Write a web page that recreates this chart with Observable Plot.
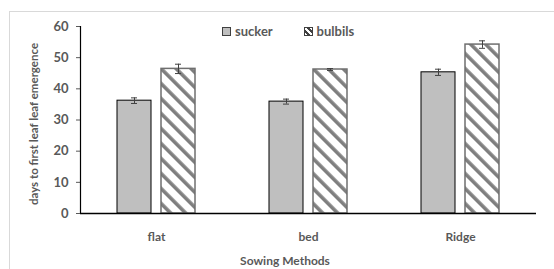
<!DOCTYPE html>
<html>
<head>
<meta charset="utf-8">
<script src="https://cdn.jsdelivr.net/npm/d3@7"></script>
<script src="https://cdn.jsdelivr.net/npm/@observablehq/plot@0.6"></script>
<style>
  html, body { margin: 0; padding: 0; background: #fff; }
  #wrap { position: relative; width: 554px; height: 269px; overflow: hidden; font-family: Lato, "Open Sans", sans-serif; }
  #frame { position: absolute; left: 9px; top: 11px; width: 700px; height: 400px; border: 1px solid #d9d9d9; }
  #chart { position: absolute; left: 0; top: 0; }
  .lbl { position: absolute; color: #595959; font-weight: bold; font-size: 12px; white-space: nowrap; }
  .sw { display: inline-block; width: 7px; height: 7px; border: 1px solid #404040; vertical-align: middle; margin-right: 4px; position: relative; top: -1px; }
</style>
</head>
<body>
<div id="wrap">
  <div id="frame"></div>
  <div id="chart"></div>
  <div class="lbl" id="legend" style="left:222px; top:23px; font-size:13px;">
    <span class="sw" style="background:#bfbfbf;"></span>sucker
    <span class="sw" style="margin-left:28px; background: repeating-linear-gradient(45deg, #fff 0 2px, #404040 2px 4px);"></span>bulbils
  </div>
  <div class="lbl" id="ytitle" style="left:33px; top:124px; font-size:11.5px; transform: translate(-50%,-50%) rotate(-90deg);">days to first leaf leaf emergence</div>
  <div class="lbl" id="xtitle" style="left:285px; top:260px; transform: translate(-50%,-50%);">Sowing Methods</div>
</div>
<script>
const categories = ["flat", "bed", "Ridge"];
const series = ["sucker", "bulbils"];
const suckerValues = [36.2, 35.9, 45.3];
const suckerErrors = [0.9, 0.8, 1.0];
const bulbilsValues = [46.4, 46.2, 54.2];
const bulbilsErrors = [1.5, 0.3, 1.2];
const yTicks = [0, 10, 20, 30, 40, 50, 60];

const data = categories.flatMap((c, i) => [
  {cat: c, series: "sucker", value: suckerValues[i], err: suckerErrors[i]},
  {cat: c, series: "bulbils", value: bulbilsValues[i], err: bulbilsErrors[i]}
]);

const plot = Plot.plot({
  width: 554,
  height: 269,
  marginLeft: 80,
  marginRight: 18,
  marginTop: 26,
  marginBottom: 56,
  style: {fontFamily: "Lato, 'Open Sans', sans-serif", fontSize: "12px", fontWeight: "bold", color: "#595959", background: "transparent"},
  fx: {domain: categories, padding: 0, axis: "bottom", tickSize: 0, tickPadding: 19, label: null},
  x: {domain: series, paddingInner: 0.227, paddingOuter: 0.837, axis: null},
  y: {domain: [0, 60], ticks: yTicks, tickSize: 4, tickPadding: 8, label: null},
  marks: [
    Plot.barY(data.filter(d => d.series === "sucker"), {fx: "cat", x: "series", y: "value", fill: "#bfbfbf", stroke: "#000", strokeWidth: 1}),
    Plot.barY(data.filter(d => d.series === "bulbils"), {fx: "cat", x: "series", y: "value", fill: "url(#hatch)", stroke: "#6f6f6f", strokeWidth: 1.5}),
    Plot.ruleX(data, {fx: "cat", x: "series", y1: d => d.value - d.err, y2: d => d.value + d.err, stroke: "#404040", strokeWidth: 1}),
    Plot.tickY(data, {fx: "cat", x: "series", y: d => d.value - d.err, insetLeft: 14, insetRight: 14, stroke: "#404040", strokeWidth: 1}),
    Plot.tickY(data, {fx: "cat", x: "series", y: d => d.value + d.err, insetLeft: 14, insetRight: 14, stroke: "#404040", strokeWidth: 1}),
    Plot.ruleY([0], {stroke: "#000", strokeWidth: 1.5})
  ]
});

const svg = d3.select(plot);
svg.selectAll('g[aria-label="y-axis tick label"] text').style("font-size", "13px");
const defs = svg.insert("defs", ":first-child");
const pat = defs.append("pattern")
  .attr("id", "hatch")
  .attr("patternUnits", "userSpaceOnUse")
  .attr("width", 10.6)
  .attr("height", 10.6)
  .attr("patternTransform", "rotate(-45)");
pat.append("rect").attr("width", 10.6).attr("height", 10.6).attr("fill", "#fff");
pat.append("rect").attr("x", 0).attr("width", 3.6).attr("height", 10.6).attr("fill", "#7f7f7f");

// y axis line, placed with the plot's own y scale
const ys = plot.scale("y");
svg.append("line")
  .attr("x1", 80.5).attr("x2", 80.5)
  .attr("y1", ys.apply(0)).attr("y2", ys.apply(60))
  .attr("stroke", "#000").attr("stroke-width", 1.2);

document.getElementById("chart").appendChild(plot);
</script>
</body>
</html>
